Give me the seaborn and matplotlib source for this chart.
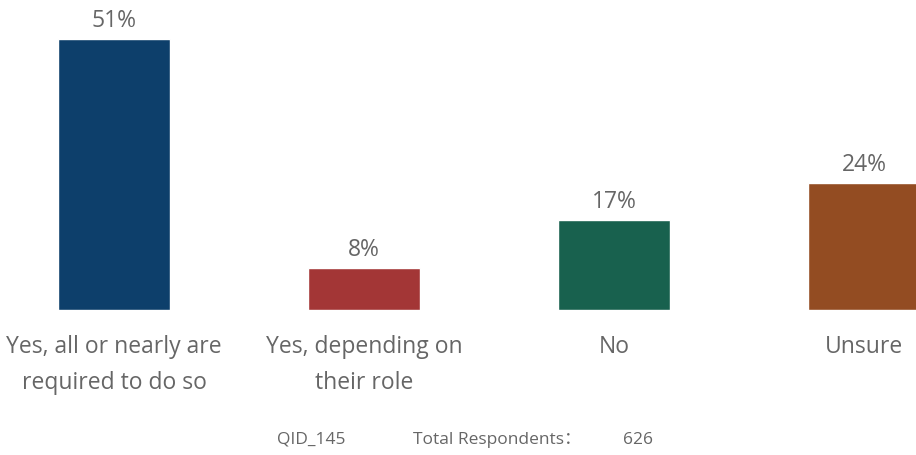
"""
Bar chart: QID_145 responses, recreated with seaborn.
"""

import matplotlib
matplotlib.use("Agg")
import matplotlib.pyplot as plt
import seaborn as sns
import pandas as pd

# data
categories = ["Yes, all or nearly are\nrequired to do so", "Yes, depending on\ntheir role", "No", "Unsure"]
percent = [51, 8, 17, 24]
colors = ["#0D3F6B", "#A33636", "#18614E", "#934C22"]
question_id = "QID_145"
total_respondents = 626

sns.set_theme(style="white")
plt.rcParams["font.family"] = ["Open Sans", "Noto Sans CJK SC", "DejaVu Sans"]
text_color = "#666666"

df = pd.DataFrame({"category": categories, "percent": percent})

fig = plt.figure(figsize=(9.16, 4.56), dpi=100)
ax = fig.add_axes([0, (456 - 311) / 456, 1, 311 / 456])

sns.barplot(data=df, x="category", y="percent", hue="category",
            palette=colors, legend=False, width=0.448, saturation=1, ax=ax)

ax.set_xlim(-114 / 250, (916 - 114) / 250)
ax.set_ylim(0, 311 / 5.31)

# value labels
for container in ax.containers:
    ax.bar_label(container, fmt="%d%%", padding=5, fontsize=16.5, color=text_color)

ax.set_xlabel("")
ax.set_ylabel("")
ax.set_yticks([])
ax.set_xticks(range(len(categories)), labels=categories, linespacing=1.7)
ax.tick_params(axis="x", length=0, pad=17, labelsize=16.5, labelcolor=text_color)
sns.despine(ax=ax, left=True, bottom=True)

# footer
y_foot = 1 - 440 / 456
fig.text(277 / 916, y_foot, question_id, ha="left", va="center",
         fontsize=12.5, color=text_color)
fig.text(413 / 916, y_foot, "Total Respondents：", ha="left", va="center",
         fontsize=12.5, color=text_color)
fig.text(623 / 916, y_foot, str(total_respondents), ha="left", va="center",
         fontsize=12.5, color=text_color)

plt.savefig("out.png", dpi=100)
plt.close()
